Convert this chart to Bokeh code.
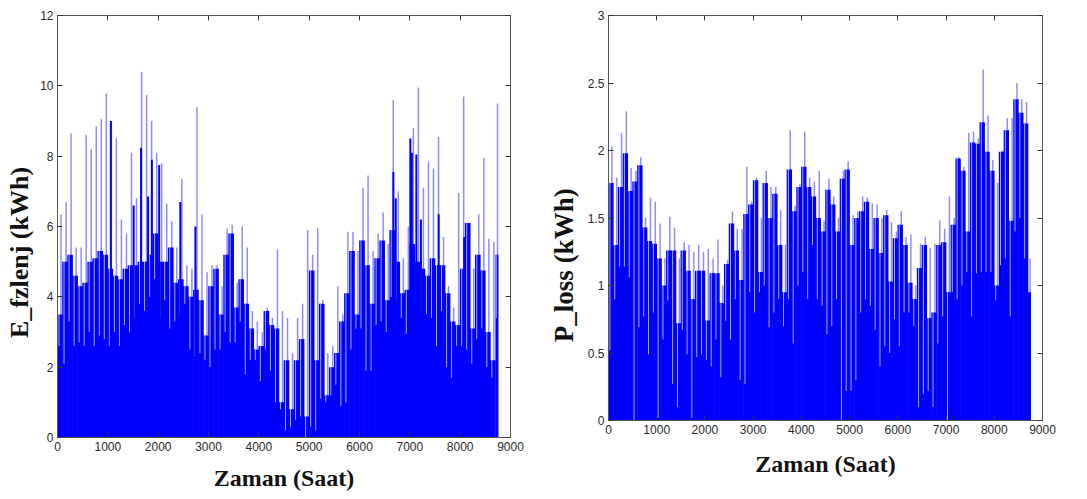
from bokeh.plotting import figure
from bokeh.layouts import row
from bokeh.models import Range1d, LinearAxis, FixedTicker, CustomJSTickFormatter
from bokeh.embed import file_html
from bokeh.resources import INLINE

# ---------------- data (100-hour bins) ----------------
bin_start = list(range(0, 8800, 100))          # 0 .. 8700 (88 bins)
last_hour = 8760

# Left panel: E_fzlenj (kWh)
L_hi = [3.5, 5.0, 5.2, 4.6, 4.3, 4.4, 5.0, 5.1, 5.3, 5.2,
        4.8, 4.6, 4.5, 4.8, 4.9, 4.9, 5.0, 5.0, 5.2, 5.8,
        5.0, 5.0, 5.4, 4.4, 4.5, 4.3, 4.0, 4.2, 3.9, 2.9,
        4.3, 4.8, 3.5, 5.2, 5.8, 3.7, 4.5, 3.8, 3.1, 2.5,
        2.6, 3.6, 3.2, 3.1, 1.0, 2.2, 0.8, 2.2, 2.8, 0.6,
        4.75, 2.2, 3.8, 1.2, 2.0, 2.4, 3.3, 4.1, 5.3, 3.5,
        5.6, 4.9, 3.8, 5.1, 5.6, 3.9, 5.9, 5.0, 4.1, 4.2,
        5.5, 5.0, 4.8, 4.6, 5.1, 4.9, 4.9, 4.1, 3.3, 3.2,
        4.8, 6.1, 3.1, 5.2, 4.75, 3.0, 2.2, 5.2]
L_lo = [2.6, 2.1, 3.3, 2.6, 2.7, 2.6, 3.0, 2.6, 2.9, 2.8,
        2.6, 3.0, 2.6, 3.2, 3.0, 3.4, 3.8, 3.6, 4.0, 4.5,
        3.4, 3.9, 3.1, 3.3, 3.5, 3.8, 2.5, 2.3, 2.4, 2.2,
        2.0, 2.5, 2.5, 3.0, 2.7, 2.7, 3.3, 1.8, 2.2, 2.2,
        1.6, 2.5, 1.9, 1.0, 0.8, 0.2, 0.3, 0.5, 0.6, 0.0,
        0.3, 0.2, 1.1, 1.0, 1.2, 1.5, 0.9, 1.0, 2.5, 3.1,
        3.1, 1.9, 1.9, 3.2, 3.3, 3.0, 4.0, 3.9, 3.4, 2.95,
        3.0, 3.7, 3.5, 3.5, 3.4, 2.6, 3.6, 2.0, 1.7, 2.6,
        2.6, 2.5, 2.1, 2.8, 3.1, 2.0, 1.7, 3.4]
L_pk = [6.35, 6.7, 8.65, 5.4, 5.4, 8.6, 8.2, 8.85, 9.05, 9.78,
        9.0, 8.5, 6.2, 5.8, 8.1, 6.8, 10.4, 9.73, 9.0, 8.1,
        7.8, 6.65, 6.15, 5.4, 7.35, 4.9, 4.8, 9.4, 6.35, 4.7,
        4.9, 4.9, 4.3, 5.95, 6.05, 4.4, 6.0, 5.4, 3.6, 3.3,
        3.0, 3.7, 3.4, 5.35, 3.6, 3.4, 2.4, 3.4, 3.8, 5.9,
        5.2, 5.95, 3.9, 2.4, 2.6, 4.3, 3.5, 5.85, 5.85, 5.3,
        7.1, 7.45, 5.3, 5.8, 6.4, 5.5, 9.6, 7.0, 5.1, 6.0,
        8.8, 9.95, 7.1, 7.85, 7.65, 8.55, 5.7, 4.3, 3.7, 6.95,
        9.7, 6.1, 4.8, 6.35, 7.95, 5.65, 5.55, 9.5]
# dark (saturated) spikes of the left panel
L_dark_h = [1060, 1513, 1660, 1800, 1875, 2020, 2440, 2740, 6673, 6720,
            7010, 7040, 7130, 7220, 7573, 8080]
L_dark_v = [9.0, 6.6, 8.24, 6.85, 7.9, 7.75, 6.7, 6.0, 7.55, 6.8,
            8.5, 8.1, 8.05, 6.2, 6.35, 5.7]

# Right panel: P_loss (kWh)
R_hi = [1.76, 1.3, 1.73, 1.98, 1.7, 1.77, 1.89, 1.43, 1.33, 1.31,
        1.2, 1.0, 1.26, 1.26, 0.72, 1.26, 1.11, 0.9, 1.11, 1.11,
        0.74, 1.09, 1.09, 0.87, 1.16, 1.46, 1.26, 1.04, 1.53, 1.6,
        1.78, 1.1, 1.76, 1.5, 1.68, 1.3, 0.95, 1.86, 1.55, 1.73,
        1.88, 1.73, 1.66, 1.5, 1.4, 1.71, 1.6, 1.4, 1.79, 1.86,
        1.3, 1.5, 1.55, 1.62, 1.27, 1.5, 1.24, 1.52, 1.03, 1.35,
        1.45, 1.3, 1.02, 0.9, 1.13, 1.3, 0.76, 0.8, 1.3, 1.32,
        0.95, 1.45, 1.94, 1.85, 1.4, 2.06, 2.05, 2.21, 1.99, 1.85,
        1.0, 1.99, 2.15, 1.48, 2.38, 2.28, 2.2, 0.95]
R_lo = [0.52, 0.9, 1.14, 1.14, 1.06, 0.0, 0.69, 0.77, 0.49, 0.8,
        0.02, 0.6, 0.89, 0.27, 0.1, 0.67, 0.49, 0.02, 0.47, 0.49,
        0.45, 0.4, 0.6, 0.32, 0.74, 0.6, 0.9, 0.3, 0.27, 0.95,
        0.8, 0.95, 1.0, 0.69, 0.8, 0.9, 0.7, 0.9, 0.57, 1.0,
        1.1, 0.9, 1.3, 0.9, 0.85, 0.64, 0.7, 0.9, 0.0, 0.22,
        0.22, 0.3, 0.8, 0.9, 0.85, 0.67, 0.4, 0.55, 0.5, 0.75,
        0.55, 0.8, 0.8, 0.7, 0.1, 0.2, 0.22, 0.1, 0.57, 0.77,
        0.0, 0.95, 0.9, 1.0, 1.1, 0.77, 1.09, 1.1, 1.1, 1.1,
        0.89, 1.15, 1.2, 0.77, 1.4, 1.5, 1.2, 0.95]
R_pk = [2.03, 1.8, 2.13, 2.29, 1.87, 1.85, 1.95, 1.5, 1.65, 1.62,
        1.46, 1.2, 1.51, 1.43, 1.2, 1.32, 1.3, 1.25, 1.3, 1.25,
        1.27, 1.2, 1.34, 1.0, 1.19, 1.55, 1.42, 1.42, 1.88, 1.62,
        1.8, 1.5, 1.85, 1.73, 1.73, 1.56, 1.3, 2.15, 1.59, 1.75,
        2.14, 1.8, 1.77, 1.85, 1.48, 1.79, 1.66, 1.5, 1.85, 1.92,
        1.52, 1.55, 1.66, 1.65, 1.61, 1.6, 1.5, 1.56, 1.47, 1.4,
        1.55, 1.36, 1.38, 1.0, 1.31, 1.36, 1.28, 1.31, 1.48, 1.42,
        1.66, 1.5, 1.95, 1.88, 2.13, 2.14, 2.09, 2.6, 2.26, 1.93,
        1.76, 2.0, 2.24, 2.24, 2.5, 2.38, 2.36, 1.2]

x_ticks = [0, 1000, 2000, 3000, 4000, 5000, 6000, 7000, 8000, 9000]
L_yticks = [0, 2, 4, 6, 8, 10, 12]
R_yticks = [0, 0.5, 1, 1.5, 2, 2.5, 3]

x_label = "Zaman (Saat)"
L_ylabel = "E_fzlenj (kWh)"
R_ylabel = "P_loss (kWh)"

BLUE = "#0000ff"
TICK_FONT = "Liberation Sans"
LABEL_FONT = "Liberation Serif"
NBSP = "\u00a0"


def style_axes(p, yticks, xlab, ylab, x_standoff, y_standoff, x_size, y_size):
    fmt = CustomJSTickFormatter(code="return String(tick)")
    xa = p.below[0]
    ya = p.left[0]
    for ax, tk in ((xa, x_ticks), (ya, yticks)):
        ax.ticker = FixedTicker(ticks=tk)
        ax.formatter = fmt
        ax.major_tick_in = 5
        ax.major_tick_out = 0
        ax.minor_tick_line_color = None
        ax.axis_line_color = "#555555"
        ax.major_tick_line_color = "#333333"
        ax.major_label_text_font = TICK_FONT
        ax.major_label_text_font_size = "12px"
        ax.major_label_text_color = "#2a2a2a"
        ax.major_label_standoff = 4
        ax.axis_label_text_font = LABEL_FONT
        ax.axis_label_text_font_style = "bold"
        ax.axis_label_text_color = "#111111"
    xa.axis_label = xlab
    xa.axis_label_standoff = x_standoff
    xa.axis_label_text_font_size = x_size
    ya.axis_label = ylab
    ya.axis_label_standoff = y_standoff
    ya.axis_label_text_font_size = y_size
    blank = CustomJSTickFormatter(code="return ''")
    for loc, tk in (("above", x_ticks), ("right", yticks)):
        ax = LinearAxis(ticker=FixedTicker(ticks=tk), formatter=blank,
                        major_tick_in=5, major_tick_out=0,
                        minor_tick_line_color=None, major_label_standoff=0,
                        axis_line_color="#555555", major_tick_line_color="#333333")
        p.add_layout(ax, loc)
    p.xgrid.grid_line_color = None
    p.ygrid.grid_line_color = None
    p.outline_line_color = "#555555"


def draw_series(p, hi, lo, pk):
    widths = [min(100, last_hour - h) for h in bin_start]
    centers = [h + w / 2 for h, w in zip(bin_start, widths)]
    bar_w = [w + 12 if h + w < last_hour else w for h, w in zip(bin_start, widths)]
    spike_x = [h + 0.7 * w for h, w in zip(bin_start, widths)]
    gap_x = [h + 0.3 * w for h, w in zip(bin_start, widths)]
    p.segment(x0=spike_x, y0=[0] * len(pk), x1=spike_x, y1=pk,
              line_color=BLUE, line_alpha=0.45, line_width=1.5)
    p.vbar(x=centers, width=bar_w, top=hi, bottom=0,
           fill_color=BLUE, line_color=None)
    p.segment(x0=gap_x, y0=lo, x1=gap_x, y1=hi,
              line_color="white", line_alpha=0.65, line_width=1.0)


# ---------------- left figure ----------------
p1 = figure(frame_width=453, frame_height=422, output_backend="svg",
            toolbar_location=None, x_range=Range1d(0, 9000), y_range=Range1d(0, 12),
            min_border_left=57, min_border_right=30, min_border_top=15,
            min_border_bottom=55, background_fill_color="white")
style_axes(p1, L_yticks, x_label, L_ylabel + NBSP * 8, 11, 3, "24px", "26px")
draw_series(p1, L_hi, L_lo, L_pk)
p1.segment(x0=L_dark_h, y0=[0] * len(L_dark_h), x1=L_dark_h, y1=L_dark_v,
           line_color=BLUE, line_width=2)

# ---------------- right figure ----------------
p2 = figure(frame_width=434, frame_height=405, output_backend="svg",
            toolbar_location=None, x_range=Range1d(0, 9000), y_range=Range1d(0, 3),
            min_border_left=68, min_border_right=20, min_border_top=9,
            min_border_bottom=78, background_fill_color="white")
style_axes(p2, R_yticks, x_label, R_ylabel + NBSP * 14, 14, 6, "24px", "27px")
draw_series(p2, R_hi, R_lo, R_pk)

layout = row(p1, p2)
open("out.html", "w").write(file_html(layout, INLINE))
